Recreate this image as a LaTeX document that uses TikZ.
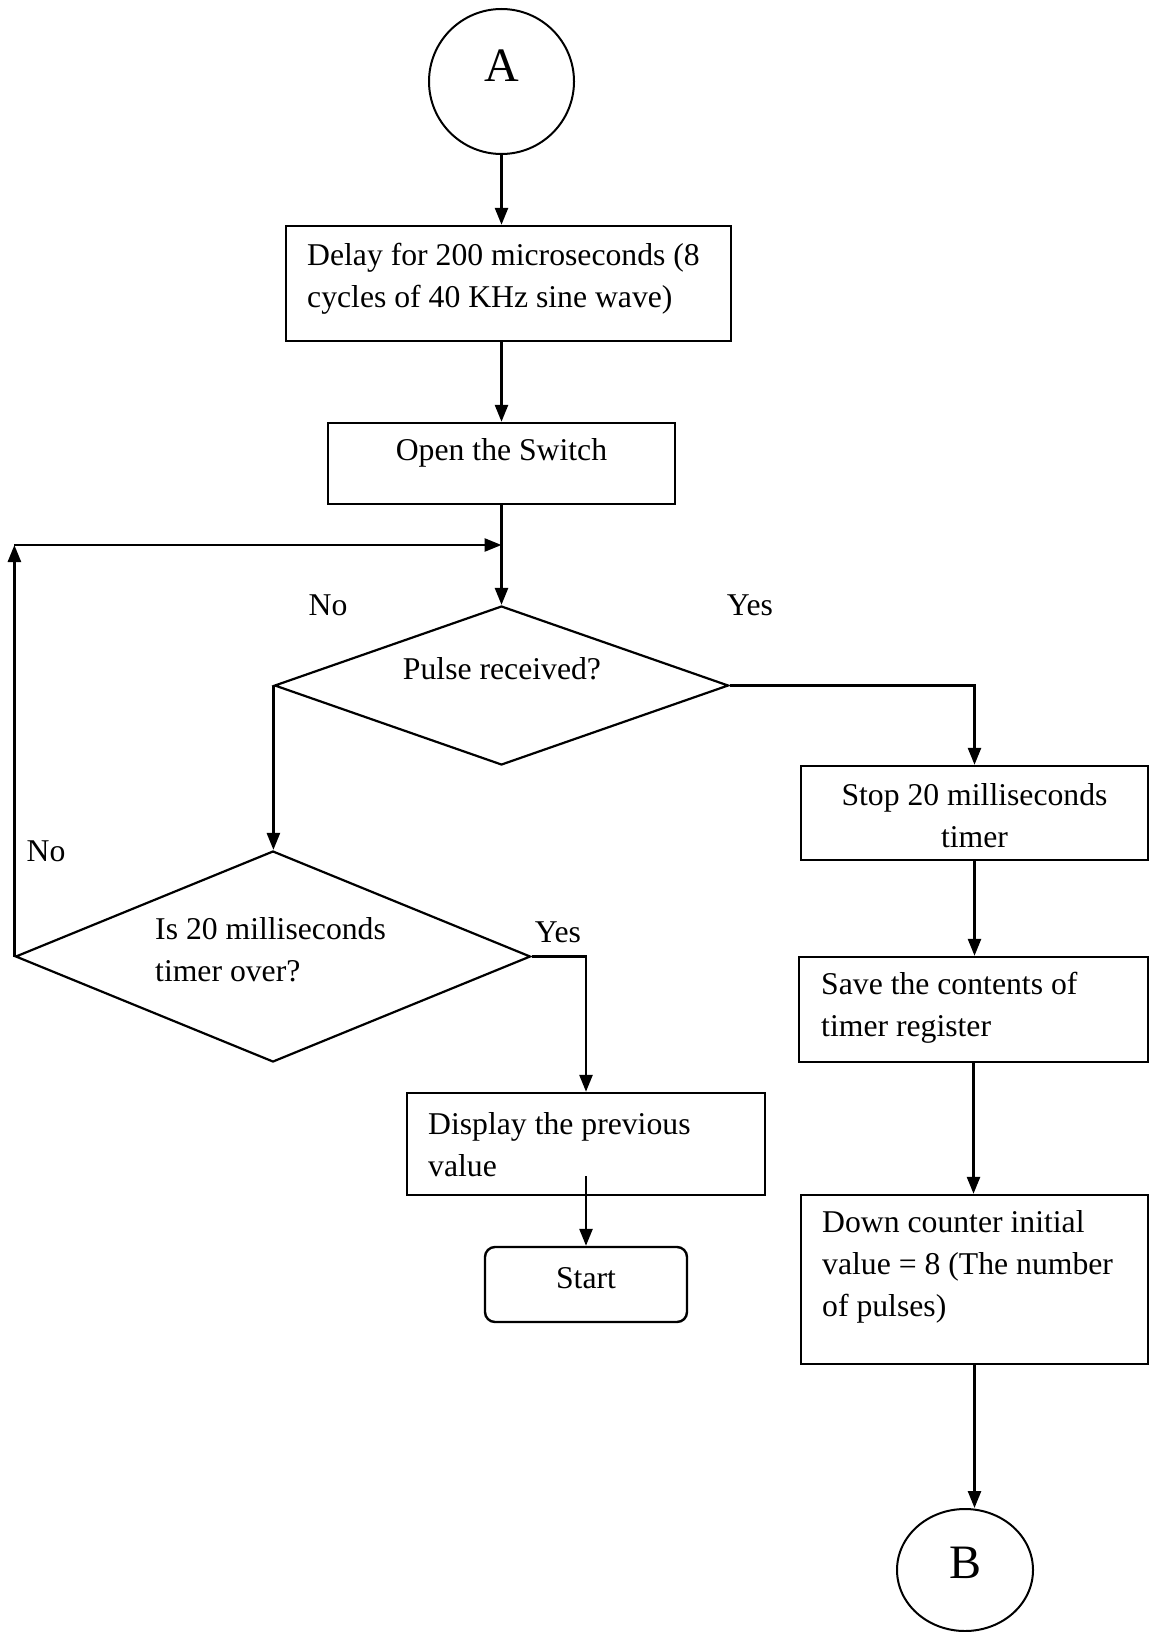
\documentclass[tikz,border=0pt]{standalone}
\usepackage{fontspec}
\setmainfont{Liberation Serif}
\usetikzlibrary{shapes.geometric,arrows.meta}
\begin{document}
\begin{tikzpicture}[x=1pt,y=-1pt,
  every node/.style={inner sep=0pt},
  txt/.style={font=\fontsize{31.7}{42}\selectfont, align=left},
  ctxt/.style={font=\fontsize{31.7}{42}\selectfont, align=center},
  big/.style={font=\fontsize{48}{56}\selectfont},
  box/.style={draw, line width=2.4pt, rectangle},
  decision/.style={draw, line width=2.2pt, diamond},
  conn/.style={draw, line width=2pt},
  arr/.style={line width=2.6pt, -{Triangle[length=17pt,width=13pt]}}]
\useasboundingbox (0,0) rectangle (1152,1632);

% connector A
\node[conn, circle, minimum width=145pt, minimum height=143pt] (A) at (501.5,81.5) {};
\node[big] (Atxt) at (501.5,66) {A};

% process boxes
\node[box, minimum width=445pt, minimum height=115pt] (delay) at (508.5,283.5) {};
\node[txt, anchor=west] (delaytxt) at (307,279) {Delay for 200 microseconds (8\\cycles of 40 KHz sine wave)};

\node[box, minimum width=347pt, minimum height=81pt] (open) at (501.5,463.5) {};
\node[ctxt] (opentxt) at (501.5,453) {Open the Switch};

% decision: pulse received
\node[decision, minimum width=454pt, minimum height=159pt, aspect=2.855] (pulse) at (501.5,685.5) {};
\node[ctxt] (pulsetxt) at (502,669) {Pulse received?};

% right branch
\node[box, minimum width=347pt, minimum height=94pt] (stop) at (974.5,813) {};
\node[ctxt] (stoptxt) at (974.5,816) {Stop 20 milliseconds\\timer};

\node[box, minimum width=349pt, minimum height=105pt] (save) at (973.5,1009.5) {};
\node[txt, anchor=west] (savetxt) at (821,1008) {Save the contents of\\timer register};

\node[box, minimum width=347pt, minimum height=169pt] (down) at (974.5,1279.5) {};
\node[txt, anchor=west] (downtxt) at (822,1267) {Down counter initial\\value = 8 (The number\\of pulses)};

\node[conn, ellipse, minimum width=136pt, minimum height=122pt] (B) at (965,1570) {};
\node[big] (Btxt) at (965,1563) {B};

% decision: timer over
\node[decision, minimum width=515pt, minimum height=211pt, aspect=2.44] (timer) at (273,956.5) {};
\node[txt, anchor=west] (timertxt) at (155,950) {Is 20 milliseconds\\timer over?};

% left branch
\node[box, minimum width=358pt, minimum height=102pt] (display) at (586,1144) {};
\node[txt, anchor=west] (displaytxt) at (428,1145) {Display the previous\\value};

\node[box, rounded corners=10pt, minimum width=202pt, minimum height=75pt] (start) at (586,1284.5) {};
\node[ctxt] (starttxt) at (586,1278) {Start};

% branch labels
\node[ctxt] (no1) at (328,605) {No};
\node[ctxt] (yes1) at (750,605) {Yes};
\node[ctxt] (no2) at (46,851) {No};
\node[ctxt] (yes2) at (558,932) {Yes};

% helper points
\coordinate (join) at (501.5,545);
\coordinate (corner) at (timer.west |- join);
\coordinate (dispout) at (586,1176);

% connectors
\draw[arr] (A.south) -- (A.south |- delay.north);
\draw[arr] (open.north |- delay.south) -- (open.north);
\draw[arr] (open.south) -- (pulse.north);
\draw[arr] (pulse.east) -- (pulse.east -| stop.north) -- (stop.north);
\draw[arr] (stop.south) -- (save.north -| stop.south);
\draw[arr] (save.south) -- (down.north -| save.south);
\draw[arr] (down.south) -- (down.south |- B.north);
\draw[arr] (pulse.west) -- (pulse.west |- timer.north);
\draw[arr] (timer.west) -- (corner);
\draw[arr] (corner) -- (join);
\draw[arr] (timer.east) -| (display.north);
\draw[arr] (dispout) -- (start.north);
\end{tikzpicture}
\end{document}
